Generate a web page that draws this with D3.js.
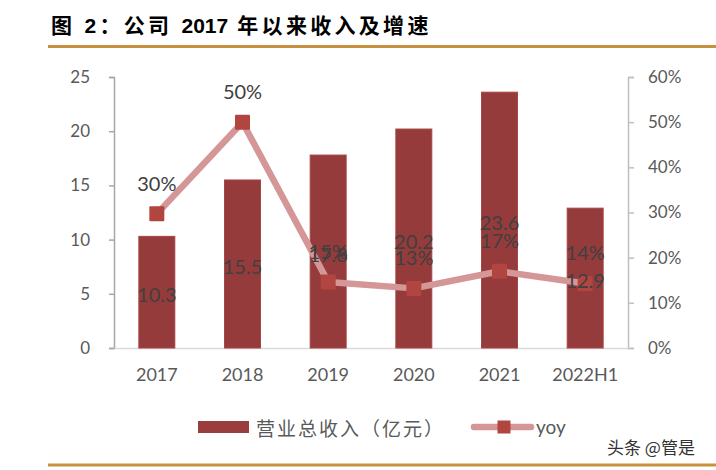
<!DOCTYPE html>
<html>
<head>
<meta charset="utf-8">
<script src="https://cdn.jsdelivr.net/npm/d3@7"></script>
<style>
  html, body { margin: 0; padding: 0; background: #fff; }
  svg { display: block; }
</style>
</head>
<body>
<svg id="chart" width="716" height="470"></svg>
<script>
const categories = ["2017", "2018", "2019", "2020", "2021", "2022H1"];
const revenue = [10.3, 15.5, 17.8, 20.2, 23.6, 12.9];
const yoy = [0.297, 0.50, 0.146, 0.132, 0.170, 0.143];
const leftTicks = [0, 5, 10, 15, 20, 25];
const rightTicks = [0, 0.1, 0.2, 0.3, 0.4, 0.5, 0.6];
const titleParts = ["图 2：公司 ", "2017", " 年以来收入及增速"];
const legendBar = "营业总收入（亿元）";
const legendLine = "yoy";
const watermark = "头条 @管是";

const svg = d3.select("#chart");
const numFont = "Lato, 'Liberation Sans', Arial, sans-serif";
const cjkFont = "'Liberation Sans', 'Noto Sans CJK SC', sans-serif";

const x = d3.scaleBand().domain(categories).range([114, 628]).paddingInner(0.58).paddingOuter(0.29);
const yL = d3.scaleLinear().domain([0, 25]).range([348, 77]);
const yR = d3.scaleLinear().domain([0, 0.6]).range([348, 77]);

// Title
const title = svg.append("text").attr("x", 51).attr("y", 33)
  .attr("font-family", cjkFont).attr("font-weight", "bold").attr("font-size", 21).attr("fill", "#000");
title.selectAll("tspan").data(titleParts).join("tspan")
  .attr("letter-spacing", (d, i) => i === 1 ? 0 : 3.3)
  .text(d => d);
svg.append("line").attr("x1", 48).attr("x2", 716).attr("y1", 46.5).attr("y2", 46.5)
  .attr("stroke", "#c8913f").attr("stroke-width", 3);

// Axes
const gL = svg.append("g").attr("transform", "translate(114,0)")
  .call(d3.axisLeft(yL).tickValues(leftTicks).tickSize(5).tickPadding(19));
gL.select(".domain").attr("stroke", "#a6a6a6").attr("stroke-width", 1.5);
gL.selectAll(".tick line").attr("stroke", "#a6a6a6").attr("stroke-width", 1.5);
gL.selectAll(".tick text").attr("font-family", numFont).attr("font-size", 17).attr("fill", "#595959");

const gR = svg.append("g").attr("transform", "translate(628,0)")
  .call(d3.axisRight(yR).tickValues(rightTicks).tickSize(6).tickPadding(14).tickFormat(d3.format(".0%")));
gR.select(".domain").attr("stroke", "#bfbfbf").attr("stroke-width", 1.5);
gR.selectAll(".tick line").attr("stroke", "#bfbfbf").attr("stroke-width", 1.5);
gR.selectAll(".tick text").attr("font-family", numFont).attr("font-size", 17).attr("fill", "#595959");

const gB = svg.append("g").attr("transform", "translate(0,348)")
  .call(d3.axisBottom(x).tickSize(0).tickPadding(20));
gB.select(".domain").attr("stroke", "#d9d9d9").attr("stroke-width", 1.5);
gB.selectAll(".tick text").attr("font-family", numFont).attr("font-size", 18).attr("fill", "#595959");

// Bars
svg.append("g").selectAll("rect").data(categories).join("rect")
  .attr("x", d => x(d)).attr("width", x.bandwidth())
  .attr("y", (d, i) => yL(revenue[i])).attr("height", (d, i) => yL(0) - yL(revenue[i]))
  .attr("fill", "#963b3b").attr("stroke", "#a84545").attr("stroke-width", 1);

// Line
const line = d3.line().x((d, i) => x(categories[i]) + x.bandwidth() / 2).y(d => yR(d));
svg.append("path").datum(yoy).attr("d", line).attr("fill", "none")
  .attr("stroke", "#d49696").attr("stroke-width", 6.5).attr("stroke-linejoin", "round");

svg.append("g").selectAll("rect").data(yoy).join("rect")
  .attr("x", (d, i) => x(categories[i]) + x.bandwidth() / 2 - 7.5)
  .attr("y", d => yR(d) - 7.5).attr("width", 15).attr("height", 15).attr("rx", 1)
  .attr("fill", "#b0463f");

// Bar labels (centered in bar)
svg.append("g").selectAll("text").data(revenue).join("text")
  .attr("x", (d, i) => x(categories[i]) + x.bandwidth() / 2)
  .attr("y", d => (yL(0) + yL(d)) / 2 + 2)
  .attr("text-anchor", "middle").attr("dominant-baseline", "central")
  .attr("font-family", numFont).attr("font-size", 20).attr("fill", "#404040")
  .text(d => d.toFixed(1));

// Percent labels
svg.append("g").selectAll("text").data(yoy).join("text")
  .attr("x", (d, i) => x(categories[i]) + x.bandwidth() / 2)
  .attr("y", d => yR(d) - 31)
  .attr("text-anchor", "middle").attr("dominant-baseline", "central")
  .attr("font-family", numFont).attr("font-size", 20).attr("fill", "#404040")
  .text(d => d3.format(".0%")(d));

// Legend
const lg = svg.append("g");
lg.append("rect").attr("x", 198).attr("y", 421).attr("width", 51).attr("height", 12).attr("fill", "#993d3d");
lg.append("text").attr("x", 256).attr("y", 427).attr("dominant-baseline", "central")
  .attr("font-family", "'Noto Sans CJK SC', sans-serif").attr("font-size", 19).attr("letter-spacing", 2)
  .attr("fill", "#595959").text(legendBar);
lg.append("line").attr("x1", 474).attr("x2", 531).attr("y1", 427).attr("y2", 427)
  .attr("stroke", "#d49696").attr("stroke-width", 6.5).attr("stroke-linecap", "round");
lg.append("rect").attr("x", 497.5).attr("y", 420.5).attr("width", 13).attr("height", 13).attr("fill", "#b0463f");
lg.append("text").attr("x", 536).attr("y", 426).attr("dominant-baseline", "central")
  .attr("font-family", numFont).attr("font-size", 19).attr("fill", "#595959").text(legendLine);

// Watermark and bottom rule
svg.append("text").attr("x", 607).attr("y", 446).attr("dominant-baseline", "central")
  .attr("font-family", "'Noto Sans CJK SC', sans-serif").attr("font-size", 17)
  .attr("fill", "#333").text(watermark);
svg.append("line").attr("x1", 48).attr("x2", 716).attr("y1", 465).attr("y2", 465)
  .attr("stroke", "#c8913f").attr("stroke-width", 3);
</script>
</body>
</html>
